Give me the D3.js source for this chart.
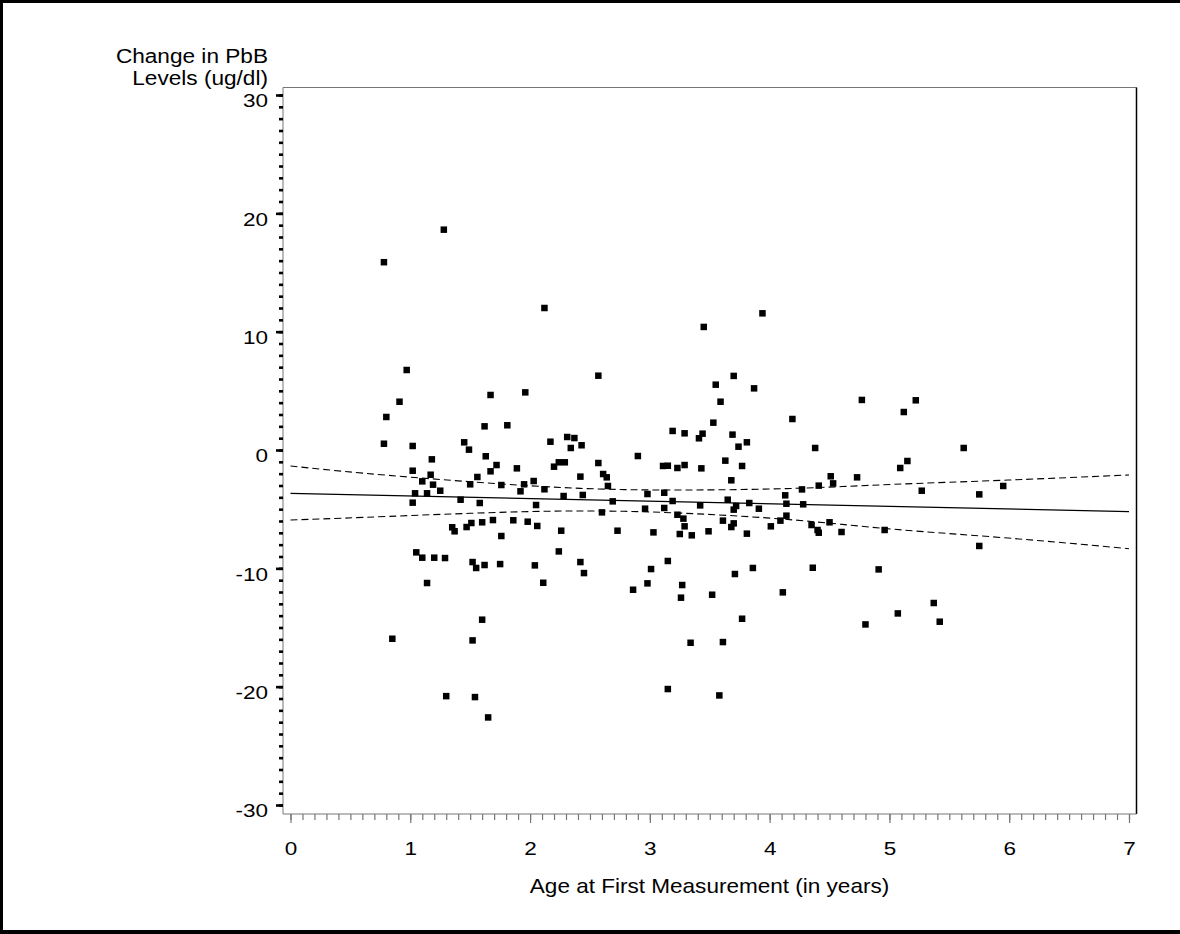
<!DOCTYPE html>
<html>
<head>
<meta charset="utf-8">
<script src="https://cdn.jsdelivr.net/npm/d3@7"></script>
<style>
  body { margin: 0; background: #fff; }
  svg { display: block; }
  text { font-family: "Liberation Sans", Arial, Helvetica, sans-serif; fill: #000; }
</style>
</head>
<body>
<div id="chart"></div>
<script>
const ageYears = [
  1.28, 0.78, 2.12, 0.97, 1.67, 1.96, 0.91, 0.80, 1.62, 1.81,
  0.78, 1.02, 1.45, 1.49, 2.17, 2.31, 2.37, 2.34, 2.43, 1.18,
  1.63, 1.72, 1.89, 1.02, 2.20, 2.24, 2.29, 1.67,
  3.94, 3.45, 2.57, 3.70, 3.55, 3.87, 3.59, 3.53, 4.19, 3.19,
  3.29, 3.44, 3.41, 3.69, 3.81, 3.74, 2.57, 2.90, 3.11, 3.15,
  3.23, 3.29, 3.43, 3.63, 3.77,
  4.77, 5.22, 5.12, 4.38, 5.62, 5.15, 5.09,
  1.17, 1.10, 1.19, 1.25, 1.04, 1.14, 1.02, 1.42, 1.56, 1.50,
  1.58, 1.76, 1.95, 1.92, 2.03, 2.12, 2.28, 2.05, 2.42, 1.35,
  1.37, 1.47, 1.51, 1.60, 1.69, 1.86, 1.98, 2.06, 2.26, 1.76,
  1.05, 1.10, 1.20, 1.29, 1.52, 1.55, 1.62, 1.75, 2.04, 2.24,
  2.42, 2.45, 1.14, 2.11, 1.60, 0.85, 1.52, 1.30, 1.54, 1.65,
  2.61, 2.64, 2.65, 2.44, 3.68, 2.69, 2.98, 3.12, 3.19, 3.42,
  3.65, 3.72, 3.70, 3.83, 3.91, 4.13, 4.14, 4.14, 4.09, 4.01,
  2.60, 2.96, 3.12, 3.23, 3.28, 3.29, 3.25, 3.35, 3.49, 3.61,
  3.70, 3.68, 3.81, 2.73, 3.03, 3.15, 3.01, 2.98, 2.86, 3.27,
  3.26, 3.52, 3.71, 3.86, 4.11, 3.77, 3.34, 3.61, 3.15, 3.58,
  4.51, 4.73, 4.53, 4.41, 4.27, 5.27, 5.75, 5.95, 4.28, 4.35,
  4.40, 4.41, 4.50, 4.60, 4.96, 5.75, 4.36, 4.91, 5.37, 5.07,
  5.42, 4.80
];
const pbbChange = [
  18.62, 15.87, 12.00, 6.76, 4.65, 4.87, 4.08, 2.79, 2.00, 2.09,
  0.53, 0.34, 0.65, 0.03, 0.70, 1.10, 1.01, 0.17, 0.40, -0.79,
  -0.53, -1.27, -1.55, -1.75, -1.41, -1.04, -1.04, -1.80,
  11.55, 10.40, 6.28, 6.26, 5.52, 5.21, 4.08, 2.31, 2.62, 1.61,
  1.41, 1.38, 0.99, 1.30, 0.65, 0.28, -1.10, -0.51, -1.35, -1.33,
  -1.52, -1.27, -1.55, -0.90, -1.35,
  4.23, 4.20, 3.21, 0.17, 0.17, -0.93, -1.52,
  -2.09, -2.65, -2.93, -3.44, -3.66, -3.66, -4.45, -4.20, -2.28, -2.90,
  -4.48, -2.96, -2.90, -3.49, -2.62, -3.32, -3.89, -4.65, -2.25, -6.53,
  -6.87, -6.51, -6.17, -6.11, -5.92, -5.94, -6.06, -6.42, -6.82, -7.27,
  -8.65, -9.10, -9.10, -9.13, -9.47, -9.97, -9.72, -9.64, -9.75, -8.57,
  -9.47, -10.40, -11.24, -11.22, -14.34, -15.95, -16.09, -20.80, -20.88, -22.60,
  -2.03, -2.31, -3.04, -3.80, -2.56, -4.34, -3.72, -3.61, -4.31, -4.68,
  -4.20, -4.73, -5.04, -4.48, -4.96, -3.83, -4.54, -5.55, -5.97, -6.45,
  -5.27, -4.96, -4.90, -5.47, -5.80, -6.45, -7.10, -7.21, -6.87, -5.97,
  -6.20, -6.51, -7.07, -6.82, -6.96, -9.38, -10.06, -11.27, -11.81, -11.41,
  -12.48, -12.23, -10.48, -9.97, -12.03, -14.26, -16.29, -16.23, -20.20, -20.74,
  -2.22, -2.31, -2.82, -3.01, -3.33, -3.44, -3.75, -3.04, -4.59, -6.34,
  -6.76, -6.99, -6.11, -6.93, -6.76, -8.11, -9.95, -10.09, -12.93, -13.81,
  -14.51, -14.74
];

// fitted line and its confidence limits
const fitX = [0, 7];
const fitY = [-3.66, -5.21];
const bandX = [0, 0.62, 1.5, 2.42, 3.3, 4.21, 5.04, 5.99, 7];
const bandUpper = [-1.35, -1.97, -2.68, -3.24, -3.38, -3.24, -2.90, -2.54, -2.11];
const bandLower = [-5.92, -5.69, -5.35, -5.15, -5.35, -5.92, -6.70, -7.44, -8.34];

const xTicks = [0, 1, 2, 3, 4, 5, 6, 7];
const yTicks = [-30, -20, -10, 0, 10, 20, 30];
const yTitleLines = ["Change in PbB", "Levels (ug/dl)"];

const W = 1180, H = 934;
const frame = { left: 283, right: 1136.5, top: 87.5, bottom: 814 };

const svg = d3.select("#chart").append("svg")
  .attr("width", W)
  .attr("height", H);

// page border (top, left, bottom)
svg.append("rect").attr("x", 0).attr("y", 0).attr("width", W).attr("height", 3).attr("fill", "#000");
svg.append("rect").attr("x", 0).attr("y", 0).attr("width", 3).attr("height", H).attr("fill", "#000");
svg.append("rect").attr("x", 0).attr("y", H - 4).attr("width", W).attr("height", 4).attr("fill", "#000");

const x = d3.scaleLinear().domain([0, 7]).range([290.5, 1129]);
const y = d3.scaleLinear().domain([-30, 30]).range([805, 95]);

// plot frame
svg.append("path")
  .attr("d", `M${frame.left},${frame.bottom}V${frame.top}H${frame.right}`)
  .attr("fill", "none").attr("stroke", "#777").attr("stroke-width", 1);
svg.append("line")
  .attr("x1", frame.right).attr("x2", frame.right)
  .attr("y1", frame.top).attr("y2", frame.bottom)
  .attr("stroke", "#000").attr("stroke-width", 1.5);
svg.append("line")
  .attr("x1", frame.left).attr("x2", frame.right)
  .attr("y1", frame.bottom).attr("y2", frame.bottom)
  .attr("stroke", "#777").attr("stroke-width", 1);

// x axis: minor ticks every 0.1, major every 1
const xMinor = svg.append("g")
  .attr("transform", `translate(0,${frame.bottom})`)
  .call(d3.axisBottom(x).tickValues(d3.range(0, 70.5).map(i => i / 10)).tickSize(6).tickFormat(""));
const xMajor = svg.append("g")
  .attr("transform", `translate(0,${frame.bottom})`)
  .call(d3.axisBottom(x).tickValues(xTicks).tickSize(9).tickFormat(d => String(d)));
[xMinor, xMajor].forEach(g => {
  g.select(".domain").remove();
  g.selectAll("line").attr("stroke", "#777").attr("stroke-width", 1.2);
});
xMajor.selectAll("text")
  .attr("y", 41).attr("dy", 0)
  .attr("transform", "scale(1.25,1)")
  .style("font-size", "18px");

// y axis: minor ticks every 1, major every 10
const yMinor = svg.append("g")
  .attr("transform", `translate(${frame.left},0)`)
  .call(d3.axisLeft(y).tickValues(d3.range(-30, 31)).tickSize(4).tickFormat(""));
const yMajor = svg.append("g")
  .attr("transform", `translate(${frame.left},0)`)
  .call(d3.axisLeft(y).tickValues(yTicks).tickSize(7).tickFormat(d => String(d)));
[yMinor, yMajor].forEach(g => {
  g.select(".domain").remove();
  g.selectAll("line").attr("stroke", "#000").attr("stroke-width", 2.6);
});
yMajor.selectAll("text")
  .attr("x", -12).attr("y", 6)
  .attr("transform", "scale(1.25,1)")
  .style("font-size", "18px");

// axis titles
const yTitle = svg.append("text")
  .attr("transform", "translate(268,63) scale(1.16,1)")
  .attr("text-anchor", "end")
  .style("font-size", "19.5px");
yTitle.selectAll("tspan")
  .data(yTitleLines)
  .enter()
  .append("tspan")
  .attr("x", 0)
  .attr("dy", (d, i) => i === 0 ? 0 : 22.5)
  .text(d => d);

svg.append("text")
  .attr("transform", "translate(709.5,893) scale(1.1,1)")
  .attr("text-anchor", "middle")
  .style("font-size", "20.5px")
  .text("Age at First Measurement (in years)");

// fit line and confidence limits
const line = d3.line().x(d => x(d[0])).y(d => y(d[1]));
svg.append("path")
  .datum(d3.zip(fitX, fitY))
  .attr("fill", "none").attr("stroke", "#000").attr("stroke-width", 1.2)
  .attr("d", line);

const bandLine = d3.line().x(d => x(d[0])).y(d => y(d[1])).curve(d3.curveNatural);
[bandUpper, bandLower].forEach(b => {
  svg.append("path")
    .datum(d3.zip(bandX, b))
    .attr("fill", "none").attr("stroke", "#000").attr("stroke-width", 1.1)
    .attr("stroke-dasharray", "7,4")
    .attr("d", bandLine);
});

// data points
const pts = d3.zip(ageYears, pbbChange);
const s = 6.5;
svg.append("g").selectAll("rect")
  .data(pts)
  .enter()
  .append("rect")
  .attr("x", d => x(d[0]) - s / 2)
  .attr("y", d => y(d[1]) - s / 2)
  .attr("width", s)
  .attr("height", s)
  .attr("fill", "#000");
</script>
</body>
</html>
